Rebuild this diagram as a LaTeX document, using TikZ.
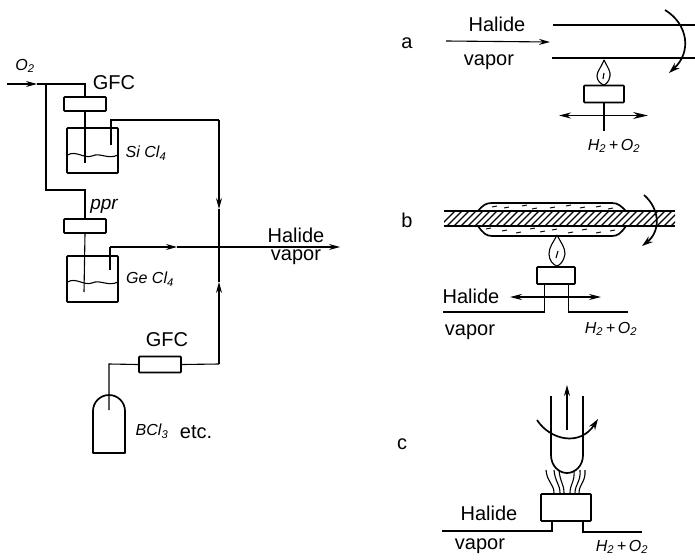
\documentclass[tikz,border=0pt]{standalone}
\usepackage{fontspec}
\setmainfont{Liberation Sans}
\usetikzlibrary{arrows.meta}
\tikzset{
  pipe/.style={draw,line width=1.1pt},
  flow/.style={pipe,-{Stealth[length=11pt,width=6pt]}},
  wall/.style={draw,line width=1.7pt,line join=round},
  unit/.style={draw,rectangle,line width=1.7pt,rounded corners=0.8pt,inner sep=0pt},
  lab/.style={font=\fontsize{20}{22}\selectfont,inner sep=0pt},
  hand/.style={font=\fontsize{16}{18}\selectfont\itshape,inner sep=0pt}
}
\begin{document}
\begin{tikzpicture}[x=1pt,y=-1pt]
\useasboundingbox (0,0) rectangle (695,559);
% gas panel
\node[lab] (gfcsi) at (114,83) {GFC};
\node[lab] (gfcb) at (167,340) {GFC};
\node[lab] (hal) at (296,235) {Halide};
\node[lab] (vap) at (296,257) {vapor};
\node[hand] (otwo) at (25,66) {O\textsubscript{2}};
\node[hand,font=\fontsize{19}{20}\selectfont\itshape] (ppr) at (104,206) {ppr};
\node[hand] (si) at (146,153) {Si Cl\textsubscript{4}};
\node[hand] (ge) at (150,279) {Ge Cl\textsubscript{4}};
\node[hand] (bcl) at (152,431) {BCl\textsubscript{3}};
\node[lab] (etc) at (196,432) {etc.};
\node[unit,minimum width=42pt,minimum height=14pt] (mfa) at (85,104) {};
\node[unit,minimum width=42pt,minimum height=14pt] (mfb) at (85,226) {};
\node[unit,minimum width=42pt,minimum height=16pt] (mfc) at (160,364.5) {};
\node[unit,minimum width=51pt,minimum height=45pt] (sivessel) at (92.5,150.5) {};
\node[unit,minimum width=51pt,minimum height=46pt] (gevessel) at (92.5,279) {};
\coordinate (inl) at (7,84);
\coordinate (inm) at (37,84);
\coordinate (tee) at (46,84);
\coordinate (top) at (85,84);
\coordinate (low) at (46,190);
\coordinate (lowr) at (85,190);
\coordinate (dipa) at (85,163);
\coordinate (dipb) at (84,292);
\coordinate (outa) at (111,145);
\coordinate (outab) at (111,120);
\coordinate (outac) at (219,120);
\coordinate (outad) at (219,209);
\coordinate (cross) at (219,247);
\coordinate (outb) at (110,270);
\coordinate (outbb) at (110,247);
\coordinate (outbc) at (177,247);
\coordinate (exit) at (340,247);
\coordinate (upm) at (219,282);
\coordinate (upc) at (219,364);
\coordinate (bot) at (109,364);
\coordinate (botb) at (109,410);
\draw[flow] (inl) -- (inm);
\draw[pipe] (inm) -- (top) -- (mfa.north);
\draw[pipe] (tee) -- (low) -- (lowr) -- (mfb.north);
\draw[pipe] (mfa.south) -- (dipa);
\draw[pipe] (mfb.south) -- (dipb);
\draw[pipe] (outa) -- (outab) -- (outac);
\draw[flow] (outac) -- (outad);
\draw[pipe] (outad) -- (cross);
\draw[pipe] (outb) -- (outbb);
\draw[flow] (outbb) -- (outbc);
\draw[flow] (outbc) -- (exit);
\draw[flow] (upc) -- (upm);
\draw[pipe] (upm) -- (cross);
\draw[pipe] (mfc.east) -- (upc);
\draw[pipe] (mfc.west) -- (bot) -- (botb);
\draw[pipe] (67.5,155) .. controls (76,150) and (84,159) .. (92,156) .. controls (100,152) and (108,160) .. (118,155);
\draw[pipe] (67.5,282) .. controls (76,277) and (84,286) .. (92,283) .. controls (100,279) and (108,287) .. (118,282);
% bottle
\draw[wall] (93,453) -- (93,411) arc (180:360:16) -- (125,453) -- cycle;

% a
\node[lab] (la) at (407,43) {a};
\node[lab] (hala) at (497,24) {Halide};
\node[lab] (vapa) at (489,62) {vapor};
\node[hand] (hoa) at (614,146) {H\textsubscript{2}\,+\,O\textsubscript{2}};
\node[unit,minimum width=40pt,minimum height=17pt] (bua) at (604,94) {};
\coordinate (feeda) at (604,131);
\coordinate (arl) at (446,41);
\coordinate (arr) at (550,42);
\coordinate (mvl) at (559,115.5);
\coordinate (mvr) at (648,115.5);
\draw[flow] (arl) -- (arr);
\draw[wall] (553,25) -- (695,25);
\draw[wall] (552,58) -- (695,58);
\draw[pipe] (bua.south) -- (feeda);
\draw[flow,{Stealth[length=12pt,width=6pt]}-{Stealth[length=15pt,width=7pt]}] (mvl) -- (mvr);
\draw[wall,-{Stealth[length=11pt,width=7pt]}] (665,10) .. controls (688,24) and (692,52) .. (669,73);
\draw[pipe] (604,60) .. controls (608,68) and (611,72) .. (610,76) .. controls (609,82) and (606,84) .. (604,85) .. controls (601,84) and (597,81) .. (597,76) .. controls (597,71) and (601,68) .. (604,60);
\draw[pipe] (604,73) -- (603,79);

% b
\node[lab] (lb) at (407,220) {b};
\node[lab] (halb) at (471,296) {Halide};
\node[lab] (vapb) at (470,332) {vapor};
\node[hand] (hob) at (611,329) {H\textsubscript{2}\,+\,O\textsubscript{2}};
\node[unit,minimum width=38pt,minimum height=17pt] (bub) at (556,275.5) {};
\begin{scope}
\clip (444,211) rectangle (675,226);
\foreach \x in {440,447,...,680}
  \draw[line width=1.1pt] (\x,226) -- (\x+15,211);
\end{scope}
\draw[wall] (444,211) -- (675,211);
\draw[wall] (444,226) -- (675,226);
\draw[wall] (478,211) .. controls (483,205) and (486,203) .. (492,203) -- (612,203) .. controls (618,203) and (621,206) .. (626,211);
\draw[wall] (478,226) .. controls (483,233) and (486,236) .. (492,236) -- (612,236) .. controls (618,236) and (621,233) .. (626,226);
\foreach \x/\y in {492/207,504/208,522/206,532/209,550/208,566/206,580/208,596/207,608/209,
  486/229,502/231,516/233,530/229,540/232,552/230,568/233,582/230,596/233,610/231}
  \draw[line width=0.9pt] (\x,\y) -- (\x+5,\y-1);
\draw[flow,{Stealth[length=12pt,width=6pt]}-{Stealth[length=12pt,width=6pt]}] (510,297) -- (601,297);
\draw[pipe] (bub.south west) ++(8,0) |- (443,312);
\draw[pipe] (bub.south east) ++(-7,0) |- (628,312);
\draw[wall,-{Stealth[length=11pt,width=7pt]}] (644,195) .. controls (661,210) and (660,232) .. (642,246);
\draw[pipe] (557,235) .. controls (561,243) and (565,247) .. (565,254) .. controls (564,261) and (560,265) .. (557,266) .. controls (553,265) and (549,260) .. (549,254) .. controls (549,247) and (553,243) .. (557,235);
\draw[pipe] (558,251) -- (556,258);

% c
\node[lab] (lc) at (402,444) {c};
\node[lab] (halc) at (489,513) {Halide};
\node[lab] (vapc) at (480,546) {vapor};
\node[hand] (hoc) at (622,547) {H\textsubscript{2}\,+\,O\textsubscript{2}};
\node[unit,minimum width=50pt,minimum height=27pt] (buc) at (566,507.5) {};
\coordinate (upa) at (567,430);
\coordinate (upb) at (567,385);
\draw[flow] (upa) -- (upb);
\draw[wall] (551,396) -- (551,455) .. controls (551,466) and (559,473) .. (567,473) .. controls (575,473) and (583,466) .. (583,455) -- (583,396);
\draw[wall,-{Stealth[length=11pt,width=7pt]}] (537,420) .. controls (550,440) and (580,447) .. (598,419);
\draw[pipe] (552,521) |- (442,531);
\draw[pipe] (583,521) |- (642,532);
\foreach \a/\b in {546/554,554/560,559/564,574/570,580/575,585/579}
  \draw[pipe] (\a,470) .. controls (\a+1,482) and (\b,484) .. (\b,493);

\end{tikzpicture}
\end{document}
